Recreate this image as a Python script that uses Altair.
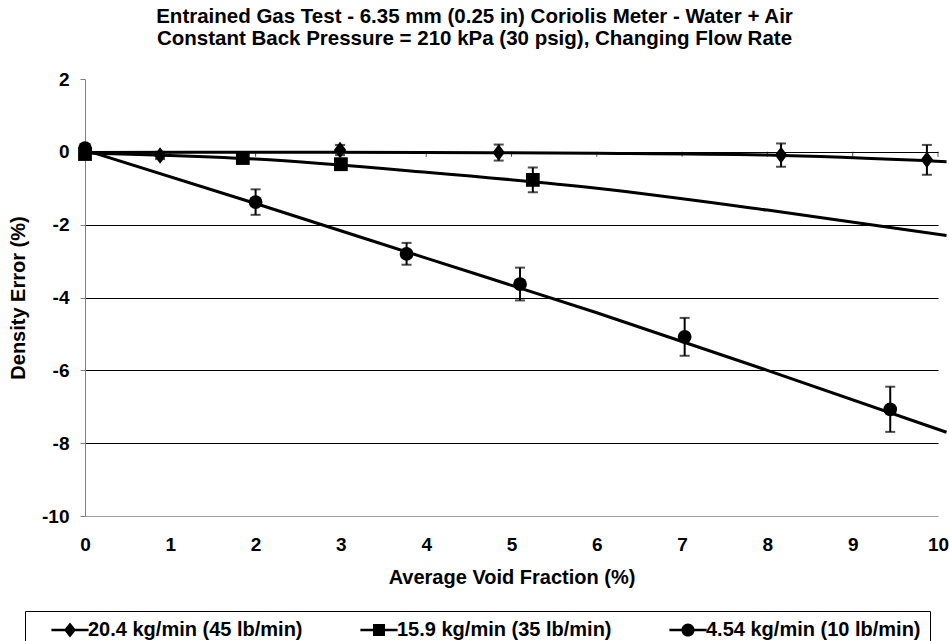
import altair as alt
import pandas as pd

TITLE = ["Entrained Gas Test - 6.35 mm (0.25 in) Coriolis Meter - Water + Air",
         "Constant Back Pressure = 210 kPa (30 psig), Changing Flow Rate"]
X_TITLE = "Average Void Fraction (%)"
Y_TITLE = "Density Error (%)"
SERIES = ["20.4 kg/min (45 lb/min)", "15.9 kg/min (35 lb/min)", "4.54 kg/min (10 lb/min)"]
X_TICKS = [0, 1, 2, 3, 4, 5, 6, 7, 8, 9, 10]
Y_TICKS = [2, 0, -2, -4, -6, -8, -10]

# measured points (void fraction %, density error %, error-bar half height)
d_x = [0.0, 0.88, 2.99, 4.85, 8.16, 9.87]
d_y = [-0.02, -0.1, 0.05, -0.02, -0.09, -0.22]
d_err = [0.08, 0.1, 0.14, 0.22, 0.32, 0.41]

s_x = [0.0, 1.85, 3.0, 5.25]
s_y = [-0.06, -0.17, -0.34, -0.77]
s_err = [0.06, 0.08, 0.15, 0.34]

c_x = [0.0, 2.0, 3.77, 5.1, 7.03, 9.44]
c_y = [0.1, -1.38, -2.8, -3.63, -5.08, -7.07]
c_err = [0.08, 0.35, 0.3, 0.45, 0.52, 0.62]

# trend lines
trend_x = [0, 2, 4, 6, 8, 10.1]
d_trend = [-0.02, -0.01, -0.02, -0.04, -0.09, -0.27]
s_trend = [-0.03, -0.2, -0.56, -1.0, -1.6, -2.3]
c_trend = [0.05, -1.42, -2.92, -4.42, -6.0, -7.7]

rows = []
for name, xs, ys, es in zip(SERIES, [d_x, s_x, c_x], [d_y, s_y, c_y], [d_err, s_err, c_err]):
    for x, y, e in zip(xs, ys, es):
        rows.append({"series": name, "x": x, "y": y, "err": e})
pts = pd.DataFrame(rows)
pts["lo"] = pts["y"] - pts["err"]
pts["hi"] = pts["y"] + pts["err"]

trows = []
for name, ys in zip(SERIES, [d_trend, s_trend, c_trend]):
    for x, y in zip(trend_x, ys):
        trows.append({"series": name, "x": x, "y": y})
trend = pd.DataFrame(trows)

FONT = "Liberation Sans"
DIAMOND = "M0,-1.2L0.9,0L0,1.2L-0.9,0Z"
STUB = "M-3.1,-0.22H-0.8V0.22H-3.1ZM0.8,-0.22H3.1V0.22H0.8Z"
LEG_PATHS = [
    STUB + "M0,-1.25L1,0L0,1.25L-1,0Z",
    STUB + "M-1,-1H1V1H-1Z",
    STUB + "M-1.1,0A1.1,1.1,0,1,1,1.1,0A1.1,1.1,0,1,1,-1.1,0Z",
]

xscale = alt.Scale(domain=[0, 10], nice=False, zero=False)
yscale = alt.Scale(domain=[-10, 2], nice=False, zero=False)

x_axis = alt.Axis(values=X_TICKS, title=X_TITLE, domain=False, ticks=False, grid=False,
                  labelPadding=19, titlePadding=13, labelFlush=False)
y_axis = alt.Axis(values=Y_TICKS, title=Y_TITLE, domainColor="#808080", tickColor="#808080",
                  tickSize=5, labelPadding=11, titlePadding=13, grid=True, gridWidth=1,
                  labelExpr="'' + datum.value",
                  gridColor={"condition": {"test": "datum.value === -10", "value": "#a0a0a0"}, "value": "black"},
                  gridOpacity={"condition": {"test": "datum.value > 1", "value": 0}, "value": 1})


def X(f):
    return alt.X(f, scale=xscale, axis=x_axis)


def Y(f):
    return alt.Y(f, scale=yscale, axis=y_axis)


lines = alt.Chart(trend).mark_line(color="black", strokeWidth=3, interpolate="monotone", clip=False).encode(
    x=X("x:Q"), y=Y("y:Q"), detail="series:N")

base = alt.Chart(pts)
bars = base.mark_rule(color="black", strokeWidth=2).encode(x=X("x:Q"), y=Y("lo:Q"), y2="hi:Q")
caps = base.transform_fold(["lo", "hi"], as_=["end", "val"]).mark_tick(
    color="black", orient="horizontal", size=10, thickness=2).encode(x=X("x:Q"), y=Y("val:Q"))
points = base.mark_point(filled=True, opacity=1, color="black", size=190).encode(
    x=X("x:Q"), y=Y("y:Q"),
    shape=alt.Shape("series:N", scale=alt.Scale(domain=SERIES, range=[DIAMOND, "square", "circle"]), legend=None))

ticks = alt.Chart(pd.DataFrame({"x": X_TICKS})).mark_tick(
    color="black", orient="vertical", size=5, thickness=1, yOffset=2.5).encode(x=X("x:Q"), y=alt.datum(0))

legend_layer = base.transform_filter("false").mark_point(
    filled=True, color="black", opacity=1).encode(
    x=X("x:Q"), y=Y("y:Q"),
    shape=alt.Shape("series:N", scale=alt.Scale(domain=SERIES, range=LEG_PATHS),
                    legend=alt.Legend(orient="none", legendX=-60, legendY=532, direction="horizontal",
                                      columns=3, columnPadding=40, padding=9, strokeColor="black",
                                      fillColor="white", labelFont=FONT, labelFontSize=20,
                                      labelFontWeight="bold", labelColor="black",
                                      labelOffset=8, symbolOffset=26,
                                      symbolSize=144, symbolStrokeWidth=0, symbolFillColor="black",
                                      symbolOpacity=1, title=None, labelLimit=400)))

chart = alt.layer(lines, bars, caps, points, ticks, legend_layer).resolve_scale(
    shape="independent").properties(
    width=853, height=437,
    title=alt.TitleParams(text=TITLE, fontSize=20.5, font=FONT, fontWeight="bold", color="black",
                          lineHeight=22, anchor="middle", dx=-37, offset=21),
    autosize=alt.AutoSizeParams(type="none"),
    padding={"left": 85, "top": 79, "right": 11, "bottom": 125},
).configure_view(stroke=None).configure_axis(
    labelFont=FONT, labelFontSize=19, labelFontWeight="bold", labelColor="black",
    titleFont=FONT, titleFontSize=20, titleFontWeight="bold", titleColor="black")

chart.save("out.html", embed_options={"renderer": "svg", "actions": False})
